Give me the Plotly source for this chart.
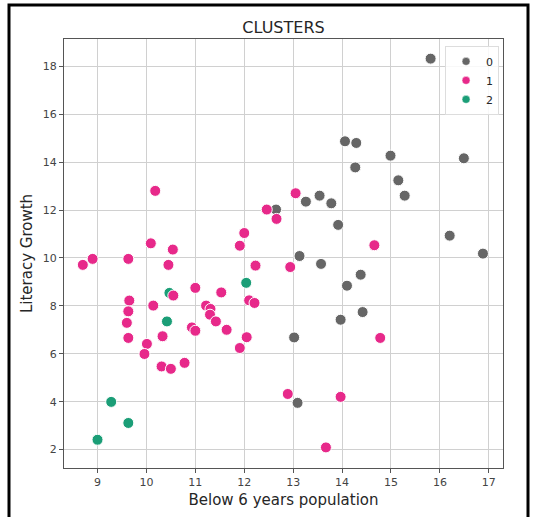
import plotly.graph_objects as go

# cluster 0 (grey)
c0_x = [15.81, 14.06, 14.29, 14.99, 16.49, 14.27, 15.15, 15.28, 13.54, 13.26, 13.78, 12.65,
        13.92, 16.20, 16.88, 13.13, 13.57, 14.38, 14.10, 14.42, 13.97, 13.02, 13.09]
c0_y = [18.32, 14.87, 14.80, 14.27, 14.16, 13.78, 13.24, 12.60, 12.60, 12.35, 12.28, 12.02,
        11.38, 10.93, 10.18, 10.08, 9.75, 9.30, 8.84, 7.74, 7.42, 6.68, 3.95]

# cluster 1 (pink)
c1_x = [10.18, 12.46, 12.66, 12.00, 11.91, 10.09, 10.54, 8.90, 8.70, 9.63, 10.45, 12.23,
        11.00, 10.55, 11.53, 9.65, 10.14, 12.10, 12.21, 11.22, 11.31, 11.30, 9.63, 9.60,
        11.42, 10.93, 11.00, 11.64, 9.63, 10.33, 12.05, 10.01, 9.96, 11.91, 10.78, 10.31,
        10.50, 13.05, 14.66, 12.94, 14.78, 12.89, 13.97, 13.67]
c1_y = [12.80, 12.02, 11.63, 11.04, 10.51, 10.61, 10.35, 9.96, 9.71, 9.96, 9.71, 9.68,
        8.75, 8.43, 8.56, 8.22, 8.01, 8.23, 8.12, 8.01, 7.87, 7.63, 7.77, 7.29,
        7.35, 7.10, 6.96, 7.00, 6.66, 6.73, 6.69, 6.41, 5.99, 6.24, 5.62, 5.47,
        5.37, 12.70, 10.53, 9.62, 6.66, 4.32, 4.20, 2.09]

# cluster 2 (green)
c2_x = [12.04, 10.47, 10.42, 9.28, 9.63, 9.00]
c2_y = [8.96, 8.54, 7.35, 3.99, 3.11, 2.41]

labels = ["0", "1", "2"]
colors = ["#666666", "#e7298a", "#1b9e77"]

x_ticks = [9, 10, 11, 12, 13, 14, 15, 16, 17]
y_ticks = [2, 4, 6, 8, 10, 12, 14, 16, 18]

FONT = "DejaVu Sans"

fig = go.Figure()
data = {"0": (c0_x, c0_y), "1": (c1_x, c1_y), "2": (c2_x, c2_y)}
for lab in ["0", "2", "1"]:
    xs, ys = data[lab]
    col = colors[labels.index(lab)]
    fig.add_trace(go.Scatter(
        x=xs, y=ys, mode="markers", showlegend=False,
        marker=dict(size=11, color=col, line=dict(color="white", width=1)),
    ))
for lab, col in zip(labels, colors):
    fig.add_trace(go.Scatter(
        x=[None], y=[None], mode="markers", name=lab,
        marker=dict(size=8, color=col, line=dict(color="white", width=0.5)),
    ))

L, R, T, B = 64, 30, 39, 49
W, H = 533, 517
pw, ph = W - L - R, H - T - B

fig.update_layout(
    width=W, height=H,
    margin=dict(l=L, r=R, t=T, b=B),
    paper_bgcolor="white", plot_bgcolor="white",
    font=dict(family=FONT, color="#333333"),
    title=dict(text="CLUSTERS", x=(L + pw / 2) / W, xanchor="center",
               y=1 - 27 / H, yanchor="middle",
               font=dict(size=16, color="#262626")),
    legend=dict(x=0.991, xanchor="right", y=0.984, yanchor="top",
                bgcolor="rgba(255,255,255,0.85)", bordercolor="#dddddd", borderwidth=1,
                font=dict(size=11, color="#262626"), itemwidth=30,
                tracegroupgap=0),
    showlegend=True,
)
fig.update_xaxes(
    range=[8.315, 17.29], tickvals=x_ticks, ticktext=[str(v) for v in x_ticks],
    showgrid=True, gridcolor="#d0d0d0", gridwidth=1, zeroline=False,
    showline=True, linecolor="#555555", linewidth=1, mirror=True,
    ticks="outside", ticklen=4, tickcolor="#555555",
    tickfont=dict(size=11, color="#444444"),
    title=dict(text="Below 6 years population", font=dict(size=15, color="#262626"), standoff=6),
)
fig.update_yaxes(
    range=[1.23, 19.14], tickvals=y_ticks, ticktext=[str(v) for v in y_ticks],
    showgrid=True, gridcolor="#d0d0d0", gridwidth=1, zeroline=False,
    showline=True, linecolor="#555555", linewidth=1, mirror=True,
    ticks="outside", ticklen=4, tickcolor="#555555",
    tickfont=dict(size=11, color="#444444"),
    title=dict(text="Literacy Growth", font=dict(size=15, color="#262626"), standoff=6),
)

# outer black frame
fig.add_shape(type="rect", xref="paper", yref="paper",
              x0=(9 - L) / pw, x1=(528 - L) / pw,
              y0=(H - B - 522) / ph, y1=(H - B - 5) / ph,
              line=dict(color="black", width=3), layer="above")

fig.write_html("out.html")
